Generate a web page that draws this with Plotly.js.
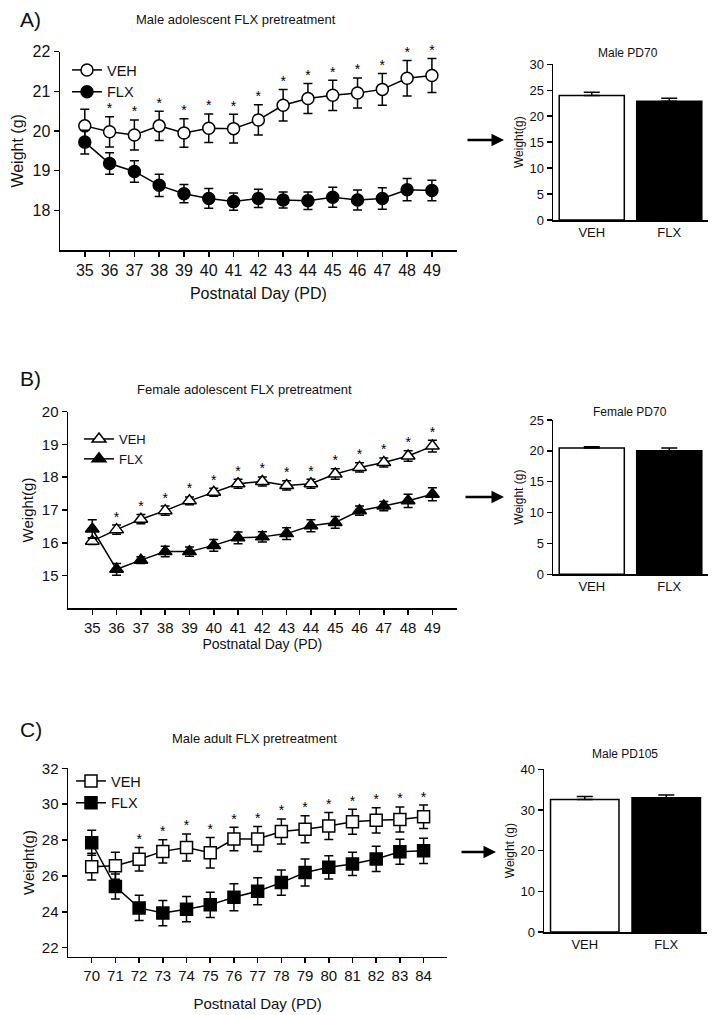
<!DOCTYPE html>
<html>
<head>
<meta charset="utf-8">
<script src="https://cdn.plot.ly/plotly-3.0.1.min.js"></script>
<style>html,body{margin:0;padding:0;background:#fff;}#chart{width:713px;height:1015px;}</style>
</head>
<body>
<div id="chart"></div>
<script>
// ---------- DATA ----------
const daysAdol = [35,36,37,38,39,40,41,42,43,44,45,46,47,48,49];
const daysAdult = [70,71,72,73,74,75,76,77,78,79,80,81,82,83,84];

// Panel A: Male adolescent
const maleAdolVEH    = [20.13,19.98,19.90,20.13,19.95,20.07,20.06,20.28,20.65,20.82,20.90,20.96,21.05,21.33,21.40];
const maleAdolVEHerr = [0.42,0.38,0.38,0.37,0.36,0.36,0.36,0.38,0.40,0.38,0.38,0.38,0.40,0.45,0.43];
const maleAdolFLX    = [19.72,19.18,18.98,18.63,18.42,18.30,18.22,18.30,18.26,18.24,18.33,18.26,18.30,18.52,18.50];
const maleAdolFLXerr = [0.30,0.27,0.27,0.28,0.23,0.25,0.22,0.23,0.20,0.22,0.25,0.25,0.27,0.28,0.26];
const maleAdolStarDays = [36,37,38,39,40,41,42,43,44,45,46,47,48,49];

// Panel B: Female adolescent
const femAdolVEH    = [16.05,16.40,16.72,16.98,17.28,17.54,17.80,17.87,17.75,17.80,18.10,18.30,18.45,18.65,18.95];
const femAdolVEHerr = [0.10,0.14,0.14,0.14,0.12,0.12,0.14,0.14,0.14,0.14,0.16,0.14,0.14,0.16,0.18];
const femAdolFLX    = [16.42,15.19,15.47,15.73,15.73,15.92,16.15,16.18,16.28,16.52,16.62,16.98,17.12,17.28,17.48];
const femAdolFLXerr = [0.28,0.18,0.10,0.16,0.14,0.18,0.18,0.16,0.18,0.18,0.18,0.14,0.14,0.20,0.20];
const femAdolStarDays = [36,37,38,39,40,41,42,43,44,45,46,47,48,49];

// Panel C: Male adult
const maleAdultVEH    = [26.52,26.57,26.93,27.37,27.59,27.30,28.06,28.06,28.48,28.60,28.78,29.02,29.10,29.15,29.30];
const maleAdultVEHerr = [0.75,0.75,0.65,0.65,0.75,0.85,0.65,0.70,0.70,0.75,0.75,0.70,0.70,0.70,0.65];
const maleAdultFLX    = [27.85,25.41,24.22,23.93,24.15,24.39,24.81,25.15,25.63,26.19,26.48,26.67,26.95,27.35,27.40];
const maleAdultFLXerr = [0.70,0.70,0.70,0.70,0.70,0.70,0.75,0.75,0.70,0.75,0.65,0.65,0.70,0.70,0.70];
const maleAdultStarDays = [72,73,74,75,76,77,78,79,80,81,82,83,84];

// Bar insets
const groups = ['VEH','FLX'];
const malePD70     = [24.0, 22.9];
const malePD70err  = [0.6, 0.55];
const femPD70      = [20.45, 20.0];
const femPD70err   = [0.2, 0.45];
const malePD105    = [32.6, 33.0];
const malePD105err = [0.7, 0.7];

// ---------- HELPERS ----------
const W = 713, H = 1015;
const px = x => x / W;
const py = y => 1 - y / H;
const FONT = 'Liberation Sans, Arial, sans-serif';

function starTrace(days, vals, errs, allDays, xa, ya) {
  const xs = [], ys = [];
  days.forEach(d => {
    const i = allDays.indexOf(d);
    xs.push(d); ys.push(vals[i] + errs[i]);
  });
  return {x: xs, y: ys, xaxis: xa, yaxis: ya, mode: 'text', text: xs.map(() => '*'),
    textposition: 'top center', textfont: {family: FONT, size: 14, color: '#000000'},
    showlegend: false, hoverinfo: 'skip', cliponaxis: false};
}

function lineTrace(name, x, y, err, symbol, fill, xa, ya, legend, showlegend) {
  return {x: x, y: y, name: name, xaxis: xa, yaxis: ya, legend: legend, showlegend: showlegend,
    mode: 'lines+markers', cliponaxis: false,
    line: {color: '#000', width: 1.5},
    marker: {symbol: symbol, size: 12, color: fill, line: {color: '#000', width: 1.5}},
    error_y: {type: 'data', array: err, visible: true, color: '#000', thickness: 1.5, width: 4.5}};
}

function barTrace(y, err, xa, ya) {
  return {x: groups, y: y, xaxis: xa, yaxis: ya, type: 'bar', showlegend: false,
    marker: {color: ['#ffffff', '#000000'], line: {color: '#000', width: 1.5}},
    error_y: {type: 'data', array: err, arrayminus: [0, 0], symmetric: false, visible: true,
      color: '#000', thickness: 1.5, width: 8}};
}

const traces = [
  // Panel A
  lineTrace('VEH', daysAdol, maleAdolVEH, maleAdolVEHerr, 'circle', '#fff', 'x', 'y', 'legend', true),
  lineTrace('FLX', daysAdol, maleAdolFLX, maleAdolFLXerr, 'circle', '#000', 'x', 'y', 'legend', true),
  starTrace(maleAdolStarDays, maleAdolVEH, maleAdolVEHerr, daysAdol, 'x', 'y'),
  barTrace(malePD70, malePD70err, 'x2', 'y2'),
  // Panel B
  lineTrace('VEH', daysAdol, femAdolVEH, femAdolVEHerr, 'triangle-up', '#fff', 'x3', 'y3', 'legend2', true),
  lineTrace('FLX', daysAdol, femAdolFLX, femAdolFLXerr, 'triangle-up', '#000', 'x3', 'y3', 'legend2', true),
  starTrace(femAdolStarDays, femAdolVEH, femAdolVEHerr, daysAdol, 'x3', 'y3'),
  barTrace(femPD70, femPD70err, 'x4', 'y4'),
  // Panel C
  lineTrace('VEH', daysAdult, maleAdultVEH, maleAdultVEHerr, 'square', '#fff', 'x5', 'y5', 'legend3', true),
  lineTrace('FLX', daysAdult, maleAdultFLX, maleAdultFLXerr, 'square', '#000', 'x5', 'y5', 'legend3', true),
  starTrace(maleAdultStarDays, maleAdultVEH, maleAdultVEHerr, daysAdult, 'x5', 'y5'),
  barTrace(malePD105, malePD105err, 'x6', 'y6'),
];

// ---------- AXES ----------
const axBase = {showline: true, linecolor: '#000', linewidth: 1.5, showgrid: false, zeroline: false,
  ticks: 'outside', ticklen: 5, tickwidth: 1.5, tickcolor: '#000', fixedrange: true};

function lineX(dom, range, vals, anchor, fs, title, tfs, standoff) {
  return Object.assign({}, axBase, {domain: dom, range: range, tickvals: vals, ticktext: vals.map(String),
    anchor: anchor, tickfont: {family: FONT, size: fs, color: '#111'},
    title: {text: title, font: {family: FONT, size: tfs, color: '#111'}, standoff: standoff}});
}
function lineY(dom, range, vals, anchor, fs, title, tfs, standoff) {
  return Object.assign({}, axBase, {domain: dom, range: range, tickvals: vals, anchor: anchor,
    tickfont: {family: FONT, size: fs, color: '#111'},
    title: {text: title, font: {family: FONT, size: tfs, color: '#111'}, standoff: standoff}});
}
function barX(dom, anchor) {
  return Object.assign({}, axBase, {domain: dom, range: [-0.5, 1.5], anchor: anchor, ticks: '',
    tickfont: {family: FONT, size: 13, color: '#111'}});
}

const layout = {
  width: W, height: H,
  margin: {l: 0, r: 0, t: 0, b: 0},
  paper_bgcolor: '#fff', plot_bgcolor: 'rgba(0,0,0,0)',
  font: {family: FONT, color: '#111'},
  bargap: 0.16,
  showlegend: true,
  // Panel A
  xaxis:  lineX([px(60), px(456.7)], [34, 50], daysAdol, 'y', 16, 'Postnatal Day (PD)', 16, 10),
  yaxis:  lineY([py(250), py(51.7)], [17, 22], [18,19,20,21,22], 'x', 16, 'Weight (g)', 16, 5),
  xaxis2: barX([px(553), px(708)], 'y2'),
  yaxis2: lineY([py(220), py(64.3)], [0, 30], [0,5,10,15,20,25,30], 'x2', 13, 'Weight(g)', 12, 3),
  // Panel B
  xaxis3: lineX([px(68), px(456.7)], [34, 50], daysAdol, 'y3', 15, 'Postnatal Day (PD)', 14, 2),
  yaxis3: lineY([py(608.3), py(411.7)], [14, 20], [15,16,17,18,19,20], 'x3', 15, 'Weight(g)', 15, 4),
  xaxis4: barX([px(553), px(708)], 'y4'),
  yaxis4: lineY([py(574.3), py(420)], [0, 25], [0,5,10,15,20,25], 'x4', 13, 'Weight (g)', 12, 3),
  // Panel C
  xaxis5: lineX([px(68), px(447.3)], [69, 85], daysAdult, 'y5', 15, 'Postnatal Day (PD)', 15, 15),
  yaxis5: lineY([py(956.7), py(768.3)], [21.5, 32], [22,24,26,28,30,32], 'x5', 15, 'Weight(g)', 15, 3),
  xaxis6: barX([px(544), px(707)], 'y6'),
  yaxis6: lineY([py(932), py(769.3)], [0, 40], [0,10,20,30,40], 'x6', 13, 'Weight (g)', 12, 3),
  legend:  {x: px(67), y: py(54), xanchor: 'left', yanchor: 'top', bgcolor: 'rgba(0,0,0,0)',
            font: {family: FONT, size: 14.5, color: '#111'}, tracegroupgap: 0, itemwidth: 30},
  legend2: {x: px(79), y: py(424), xanchor: 'left', yanchor: 'top', bgcolor: 'rgba(0,0,0,0)',
            font: {family: FONT, size: 13, color: '#111'}, tracegroupgap: 0, itemwidth: 30},
  legend3: {x: px(71), y: py(765), xanchor: 'left', yanchor: 'top', bgcolor: 'rgba(0,0,0,0)',
            font: {family: FONT, size: 14.5, color: '#111'}, tracegroupgap: 0, itemwidth: 30},
  annotations: [
    // panel letters
    {text: 'A)', x: px(18), y: py(20), xref: 'paper', yref: 'paper', xanchor: 'left', yanchor: 'middle', showarrow: false, font: {family: FONT, size: 21, color: '#111'}},
    {text: 'B)', x: px(18), y: py(379), xref: 'paper', yref: 'paper', xanchor: 'left', yanchor: 'middle', showarrow: false, font: {family: FONT, size: 21, color: '#111'}},
    {text: 'C)', x: px(18), y: py(729), xref: 'paper', yref: 'paper', xanchor: 'left', yanchor: 'middle', showarrow: false, font: {family: FONT, size: 21, color: '#111'}},
    // panel titles
    {text: 'Male adolescent FLX pretreatment', x: px(236), y: py(20), xref: 'paper', yref: 'paper', xanchor: 'center', yanchor: 'middle', showarrow: false, font: {family: FONT, size: 13, color: '#111'}},
    {text: 'Female adolescent FLX pretreatment', x: px(244), y: py(389), xref: 'paper', yref: 'paper', xanchor: 'center', yanchor: 'middle', showarrow: false, font: {family: FONT, size: 13, color: '#111'}},
    {text: 'Male adult FLX pretreatment', x: px(254), y: py(738), xref: 'paper', yref: 'paper', xanchor: 'center', yanchor: 'middle', showarrow: false, font: {family: FONT, size: 13, color: '#111'}},
    // bar titles
    {text: 'Male PD70', x: px(628), y: py(53), xref: 'paper', yref: 'paper', xanchor: 'center', yanchor: 'middle', showarrow: false, font: {family: FONT, size: 12, color: '#111'}},
    {text: 'Female PD70', x: px(630), y: py(412), xref: 'paper', yref: 'paper', xanchor: 'center', yanchor: 'middle', showarrow: false, font: {family: FONT, size: 12, color: '#111'}},
    {text: 'Male PD105', x: px(625), y: py(754), xref: 'paper', yref: 'paper', xanchor: 'center', yanchor: 'middle', showarrow: false, font: {family: FONT, size: 12, color: '#111'}},
    // arrows
    {text: '', x: px(504), y: py(140), xref: 'paper', yref: 'paper', showarrow: true, ax: -38, ay: 0, arrowhead: 2, arrowsize: 1, arrowwidth: 2.5, arrowcolor: '#000'},
    {text: '', x: px(504), y: py(497), xref: 'paper', yref: 'paper', showarrow: true, ax: -40, ay: 0, arrowhead: 2, arrowsize: 1, arrowwidth: 2.5, arrowcolor: '#000'},
    {text: '', x: px(496), y: py(852), xref: 'paper', yref: 'paper', showarrow: true, ax: -36, ay: 0, arrowhead: 2, arrowsize: 1, arrowwidth: 2.5, arrowcolor: '#000'},
  ]
};

Plotly.newPlot('chart', traces, layout, {staticPlot: true, displayModeBar: false});
</script>
</body>
</html>
